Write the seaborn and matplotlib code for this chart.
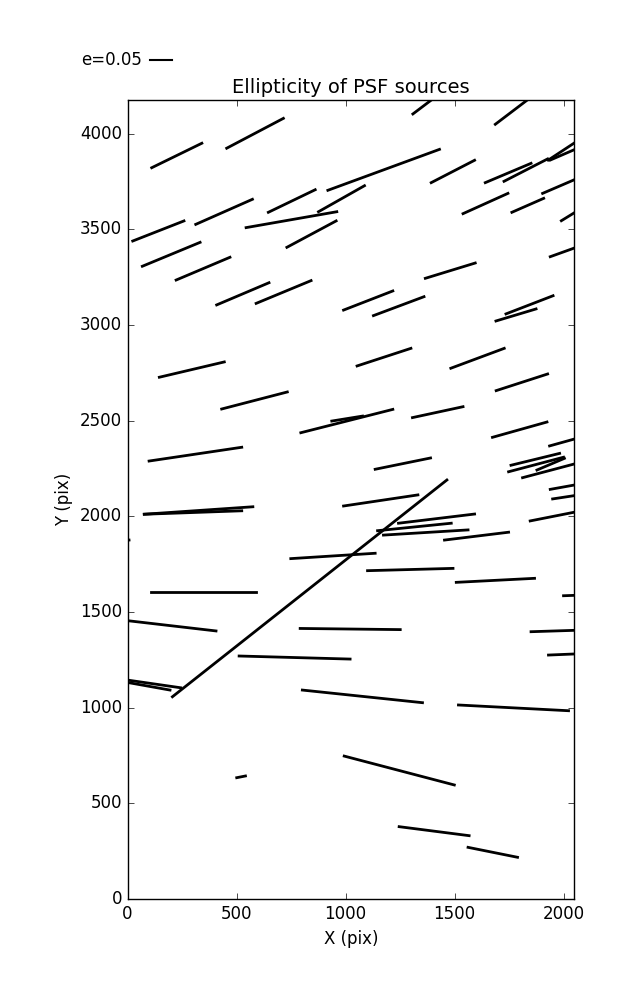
import numpy as np
import pandas as pd
import matplotlib
matplotlib.use("Agg")
import matplotlib.pyplot as plt
import seaborn as sns
from matplotlib.lines import Line2D

# Whisker end points (pixel coordinates on the detector)
x_start = [111, 455, 24, 313, 544, 646, 919, 876, 731, 68, 223, 409, 590, 991, 146,
           1309, 1687, 1393, 1641, 1727, 1930, 1939, 1904, 1539, 1763, 1990, 1939, 1366,
           1128, 1736, 1690, 1053, 1483, 432, 795, 937, 99, 77, 77, 991, -34, 108, 749,
           206, -40, 792, 1691, 1307, 1674, 1936, 1136, 1759, 1748, 1878, 1812, 1939,
           1950, 1847, 1243, 1147, 1174, 1454, 1101, 1508, 2000, 512, -35, -35, 802,
           501, 994, 1851, 1931, 1518, 1246, 1562]
y_start = [3822, 3924, 3439, 3526, 3509, 3589, 3704, 3592, 3406, 3307, 3235, 3105, 3113,
           3078, 2727, 4103, 4049, 3744, 3744, 3751, 3862, 3862, 3688, 3582, 3589, 3545,
           3357, 3244, 3049, 3058, 3021, 2786, 2774, 2561, 2437, 2498, 2289, 2011, 2011,
           2054, 1871, 1603, 1779, 1057, 1460, 1414, 2657, 2516, 2413, 2368, 2246, 2267,
           2233, 2242, 2202, 2141, 2091, 1976, 1964, 1925, 1902, 1876, 1716, 1655, 1585,
           1270, 1150, 1139, 1092, 634, 747, 1397, 1275, 1014, 378, 270]
x_end = [341, 715, 259, 573, 960, 861, 1431, 1087, 957, 333, 470, 649, 842, 1217, 444,
         1410, 1850, 1592, 1851, 1927, 2077, 2077, 2100, 1745, 1909, 2100, 2100, 1595,
         1360, 1952, 1874, 1300, 1728, 733, 1217, 1078, 524, 575, 524, 1332, 7, 590, 1136,
         1465, 406, 1251, 1927, 1539, 1924, 2100, 1390, 1982, 2000, 2004, 2100, 2100,
         2100, 2100, 1592, 1485, 1562, 1748, 1493, 1867, 2100, 1021, 244, 195, 1353,
         541, 1499, 2100, 2100, 2023, 1567, 1789]
y_end = [3950, 4080, 3544, 3657, 3592, 3707, 3918, 3728, 3544, 3432, 3354, 3221, 3232,
         3178, 2807, 4190, 4190, 3861, 3845, 3868, 3972, 3930, 3784, 3688, 3662, 3622,
         3423, 3324, 3148, 3153, 3084, 2878, 2878, 2650, 2559, 2524, 2361, 2050, 2029,
         2112, 1876, 1603, 1807, 2190, 1401, 1408, 2744, 2573, 2493, 2420, 2305, 2329,
         2309, 2303, 2289, 2174, 2117, 2033, 2012, 1964, 1929, 1917, 1728, 1676, 1589,
         1254, 1104, 1092, 1026, 643, 596, 1406, 1283, 984, 331, 218]

key_label = "e=0.05"
x_ticks = [0, 500, 1000, 1500, 2000]
y_ticks = [0, 500, 1000, 1500, 2000, 2500, 3000, 3500, 4000]

n = len(x_start)
df = pd.DataFrame({
    "seg": np.repeat(np.arange(n), 2),
    "x": np.ravel(np.column_stack([x_start, x_end])),
    "y": np.ravel(np.column_stack([y_start, y_end])),
    "order": np.tile([0, 1], n),
})

plt.style.use("classic")
plt.rcParams["font.family"] = ["DejaVu Sans"]
plt.rcParams["savefig.facecolor"] = "white"
plt.rcParams["figure.facecolor"] = "white"

fig = plt.figure(figsize=(6.37, 10.0), dpi=100)
ax = fig.add_axes([127.5 / 637, 0.101, (574 - 127.5) / 637, 0.799])

sns.lineplot(data=df, x="x", y="y", units="seg", estimator=None, sort=False,
             color="black", linewidth=2, legend=False, ax=ax)

ax.set_xlim(0, 2048)
ax.set_ylim(0, 4176)
ax.set_xticks(x_ticks)
ax.set_yticks(y_ticks)
ax.tick_params(labelsize=12)
ax.set_xlabel("X (pix)", fontsize=12)
ax.set_ylabel("Y (pix)", fontsize=12)
ax.set_title("Ellipticity of PSF sources", fontsize=14)

# ellipticity key
fig.text(81 / 637, 1 - 60 / 1000, key_label, fontsize=12, va="center", ha="left")
fig.add_artist(Line2D([150 / 637, 172 / 637], [1 - 60 / 1000, 1 - 60 / 1000],
                      color="black", linewidth=1.5, transform=fig.transFigure))

fig.savefig("out.png", dpi=100)
